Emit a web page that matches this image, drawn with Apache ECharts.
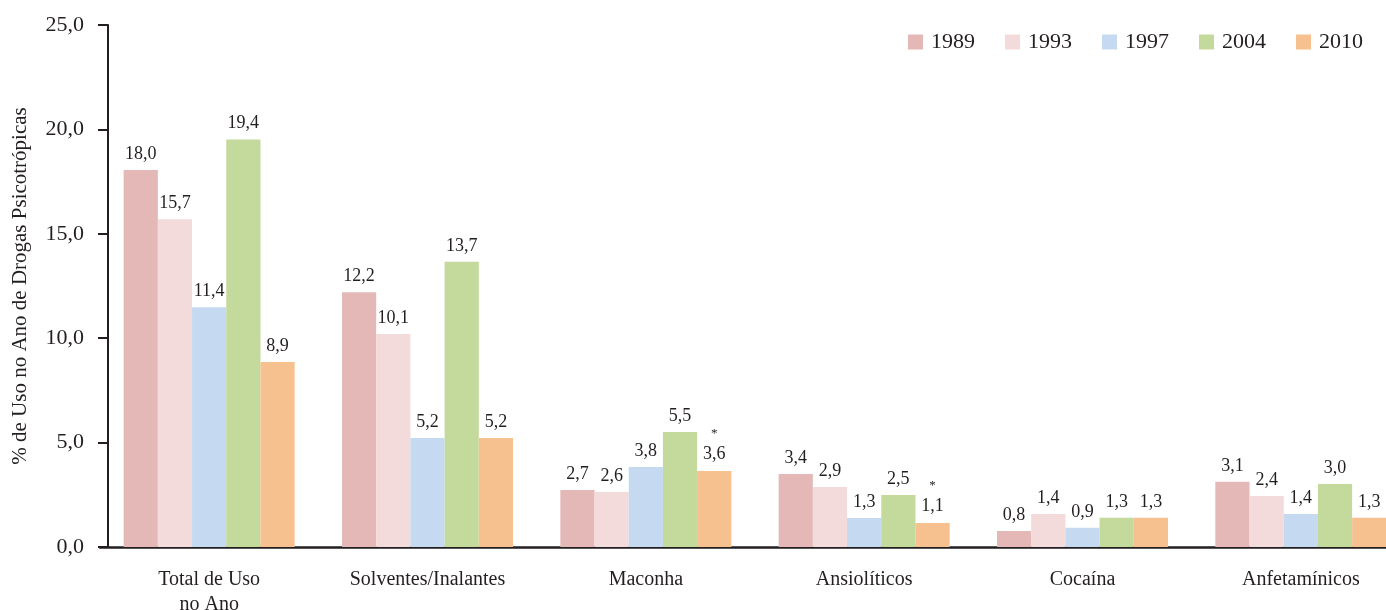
<!DOCTYPE html>
<html>
<head>
<meta charset="utf-8">
<title>Uso no Ano de Drogas Psicotrópicas</title>
<script src="https://cdn.jsdelivr.net/npm/echarts@6/dist/echarts.min.js"></script>
<style>
  html, body { margin: 0; padding: 0; background: #fff; }
  #chart { width: 1386px; height: 610px; }
</style>
</head>
<body>
<div id="chart"></div>
<script>
var categories = ['Total de Uso\nno Ano', 'Solventes/Inalantes', 'Maconha', 'Ansiolíticos', 'Cocaína', 'Anfetamínicos'];
var years = ['1989', '1993', '1997', '2004', '2010'];

// bar heights
var v1989 = [18.05, 12.2, 2.73, 3.5, 0.77, 3.12];
var v1993 = [15.7, 10.2, 2.63, 2.87, 1.58, 2.44];
var v1997 = [11.48, 5.22, 3.83, 1.39, 0.92, 1.58];
var v2004 = [19.52, 13.66, 5.51, 2.49, 1.40, 3.02];
var v2010 = [8.86, 5.22, 3.64, 1.15, 1.40, 1.40];

// printed labels
var l1989 = ['18,0', '12,2', '2,7', '3,4', '0,8', '3,1'];
var l1993 = ['15,7', '10,1', '2,6', '2,9', '1,4', '2,4'];
var l1997 = ['11,4', '5,2', '3,8', '1,3', '0,9', '1,4'];
var l2004 = ['19,4', '13,7', '5,5', '2,5', '1,3', '3,0'];
var l2010 = ['8,9', '5,2', '3,6', '1,1', '1,3', '1,3'];
var star2010 = [false, false, true, true, false, false];

var colors = ['#e5b8b8', '#f3dadb', '#c5daf0', '#c4d99c', '#f6c08f'];
var values = [v1989, v1993, v1997, v2004, v2010];
var labels = [l1989, l1993, l1997, l2004, l2010];

var FONT = '"Liberation Serif", "DejaVu Serif", serif';
var INK = '#231f20';

var myChart = echarts.init(document.getElementById('chart'));

var series = years.map(function (y, i) {
    return {
        name: y,
        type: 'bar',
        barGap: 0,
        barWidth: 34.2,
        itemStyle: { color: colors[i] },
        label: {
            show: true,
            position: 'top',
            distance: 7,
            fontFamily: FONT,
            fontSize: 18,
            color: INK,
            formatter: function (p) {
                var t = labels[i][p.dataIndex];
                if (i === 4 && star2010[p.dataIndex]) {
                    return '{a|*}\n{v|' + t + '}';
                }
                return t;
            },
            rich: {
                a: { fontFamily: FONT, fontSize: 13, color: INK, lineHeight: 20 },
                v: { fontFamily: FONT, fontSize: 18, color: INK, lineHeight: 20 }
            }
        },
        data: values[i]
    };
});

option = {
    animation: false,
    textStyle: { fontFamily: FONT },
    legend: {
        right: 18,
        top: 26,
        itemWidth: 15,
        itemHeight: 15,
        itemGap: 30,
        icon: 'rect',
        textStyle: { fontFamily: FONT, fontSize: 22, color: INK, padding: [0, 0, 0, 3] },
        data: years
    },
    grid: {
        left: 100,
        top: 25,
        width: 1310,
        bottom: 63,
        outerBoundsMode: 'none',
        containLabel: false
    },
    xAxis: {
        type: 'category',
        data: categories,
        axisTick: { show: false },
        axisLine: { lineStyle: { color: INK, width: 2.5 } },
        axisLabel: {
            fontFamily: FONT,
            fontSize: 20,
            color: INK,
            margin: 20,
            lineHeight: 25
        }
    },
    yAxis: {
        type: 'value',
        min: 0,
        max: 25,
        interval: 5,
        offset: -8,
        name: '% de Uso no Ano de Drogas Psicotrópicas',
        nameLocation: 'middle',
        nameGap: 77,
        nameTextStyle: { fontFamily: FONT, fontSize: 21, color: INK },
        axisLine: { show: true, lineStyle: { color: INK, width: 2 } },
        axisTick: { show: true, inside: false, length: 10, lineStyle: { color: INK, width: 2 } },
        splitLine: { show: false },
        axisLabel: {
            fontFamily: FONT,
            fontSize: 22,
            color: INK,
            margin: 24,
            formatter: function (v) { return v.toFixed(1).replace('.', ','); }
        }
    },
    series: series
};

myChart.setOption(option);
</script>
</body>
</html>
